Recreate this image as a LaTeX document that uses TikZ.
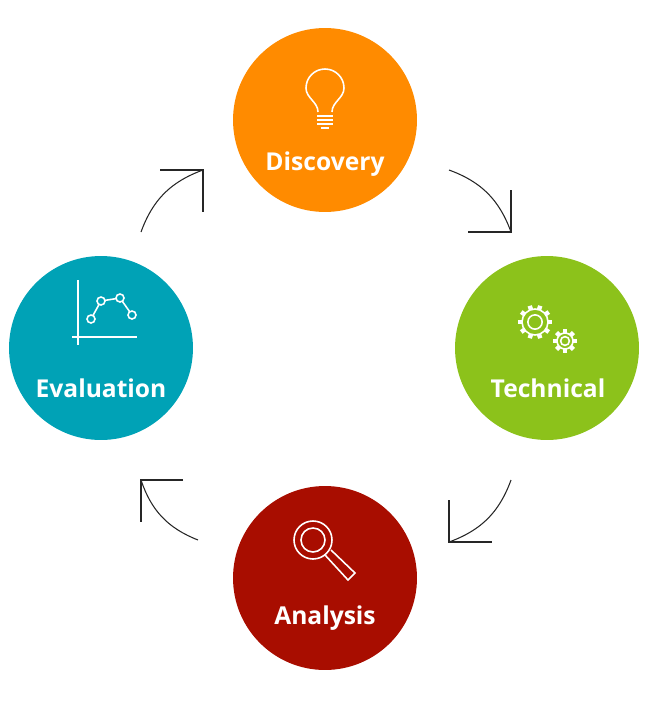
\documentclass[tikz,border=0pt]{standalone}
\usepackage{fontspec}
\setmainfont{Open Sans}
\usetikzlibrary{positioning, calc}
\definecolor{discoveryc}{HTML}{FF8B00}
\definecolor{technicalc}{HTML}{8CC21B}
\definecolor{analysisc}{HTML}{A80D00}
\definecolor{evaluationc}{HTML}{00A2B6}
\tikzset{
	phase/.style ={circle, minimum size=3.68cm, inner sep=0pt},
	phaselbl/.style={text=white, font={\fontsize{14}{17}\selectfont\bfseries}},
	icon/.style={draw=white, line width=0.9pt},
	cycle/.style={draw=black!85, line width=0.6pt},
}
\begin{document}
\begin{tikzpicture}[x=0.02cm, y=-0.02cm]
\useasboundingbox (0,0) rectangle (649,720);

\node(disc)[phase, fill=discoveryc] at (325,120) {};
\node(tech)[phase, fill=technicalc] at (547,348) {};
\node(anal)[phase, fill=analysisc] at (325,578) {};
\node(eval)[phase, fill=evaluationc] at (101,348) {};

\node(disclbl)[phaselbl] at (325,164) {Discovery};
\node(techlbl)[phaselbl] at (548,388) {Technical};
\node(anallbl)[phaselbl] at (325,618) {Analysis};
\node(evallbl)[phaselbl] at (101,388) {Evaluation};

% bulb
\draw[icon] (318,112) .. controls (318,102) and (306,98) .. (306,88)
	arc (180:360:19) .. controls (344,98) and (332,102) .. (332,112);
\foreach \yy in {116,120,124} {
	\draw[icon] (317,\yy) -- (333,\yy);
};
\draw[icon] (321,128) -- (329,128);

% gears
\foreach \gx/\gy/\gr/\gn in {535/322/13/10, 565/341/8/8} {
	\draw[icon] (\gx,\gy) circle (\gr);
	\draw[icon] (\gx,\gy) circle (\gr*0.55);
	\foreach \tt in {1,...,\gn} {
		\draw[icon, line width=2.5pt] ($(\gx,\gy)+(\tt*360/\gn:\gr)$) -- ($(\gx,\gy)+(\tt*360/\gn:\gr+4)$);
	};
};

% magnifier
\draw[icon] (313,540) circle (19);
\draw[icon] (313,540) circle (12);
\draw[icon] (325,555) -- (348,580) -- (355,573) -- (331,550);

% chart
\draw[icon] (78,280) -- (78,345);
\draw[icon] (72,337) -- (137,337);
\draw[icon] (91,319) -- (101,301) -- (120,298) -- (132,315);
\foreach \px/\py in {91/319, 101/301, 120/298, 132/315} {
	\draw[icon, fill=evaluationc] (\px,\py) circle (4);
};

% cycle arrows
\coordinate(a1s) at (141,232); \coordinate(a1e) at (203,170);
\coordinate(a2s) at (449,170); \coordinate(a2e) at (511,232);
\coordinate(a3s) at (511,480); \coordinate(a3e) at (449,542);
\coordinate(a4s) at (198,540); \coordinate(a4e) at (141,480);

\draw[cycle] (a1s) to[bend left=25] (a1e);
\draw[cycle] ($(a1e)+(-43,0)$) -- (a1e) -- ++(0,42);
\draw[cycle] (a2s) to[bend left=25] (a2e);
\draw[cycle] ($(a2e)+(0,-42)$) -- (a2e) -- ++(-43,0);
\draw[cycle] (a3s) to[bend left=25] (a3e);
\draw[cycle] ($(a3e)+(0,-42)$) -- (a3e) -- ++(43,0);
\draw[cycle] (a4s) to[bend left=25] (a4e);
\draw[cycle] ($(a4e)+(42,0)$) -- (a4e) -- ++(0,42);

\end{tikzpicture}
\end{document}
